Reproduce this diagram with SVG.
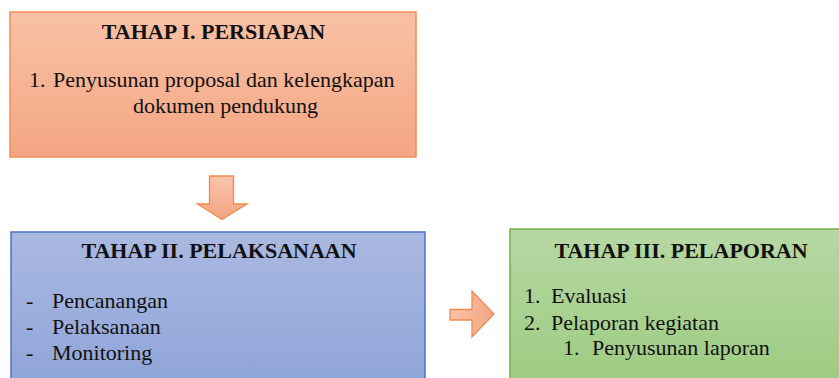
<svg xmlns="http://www.w3.org/2000/svg" width="839" height="378" viewBox="0 0 839 378">
<defs>
<linearGradient id="gO" x1="0" y1="0" x2="0" y2="1"><stop offset="0" stop-color="#f8c1a6"/><stop offset="1" stop-color="#f4a683"/></linearGradient>
<linearGradient id="gB" x1="0" y1="0" x2="0" y2="1"><stop offset="0" stop-color="#abb9e1"/><stop offset="1" stop-color="#8da3d8"/></linearGradient>
<linearGradient id="gG" x1="0" y1="0" x2="0" y2="1"><stop offset="0" stop-color="#b7d8a4"/><stop offset="1" stop-color="#9ccb80"/></linearGradient>
<linearGradient id="gA" x1="0" y1="0" x2="0" y2="1"><stop offset="0" stop-color="#f8c4aa"/><stop offset="1" stop-color="#f4a582"/></linearGradient>
<linearGradient id="gAh" x1="0" y1="0" x2="1" y2="0"><stop offset="0" stop-color="#f8c4aa"/><stop offset="1" stop-color="#f4a582"/></linearGradient>
</defs>
<style>
text{font-family:'Liberation Serif','Times New Roman','DejaVu Serif',serif;font-size:22px;fill:#111}
.t{font-weight:bold;text-anchor:middle}
.m{text-anchor:middle}
.arrow{stroke:#ef8a4f;stroke-width:1.3}
</style>
<g id="tahap1">
<rect x="10" y="12" width="406" height="145" fill="url(#gO)" stroke="#f08f58" stroke-width="1.5"/>
<text class="t" x="213.5" y="39">TAHAP I. PERSIAPAN</text>
<text x="29" y="87">1.</text>
<text x="53" y="87">Penyusunan proposal dan kelengkapan</text>
<text class="m" x="225.5" y="113">dokumen pendukung</text>
</g>
<g id="tahap2">
<rect x="11" y="232" width="414" height="160" fill="url(#gB)" stroke="#4a74c6" stroke-width="1.5"/>
<text class="t" x="219" y="258">TAHAP II. PELAKSANAAN</text>
<text x="26" y="308">-</text><text x="52" y="308">Pencanangan</text>
<text x="26" y="334">-</text><text x="52" y="334">Pelaksanaan</text>
<text x="26" y="360">-</text><text x="52" y="360">Monitoring</text>
</g>
<g id="tahap3">
<rect x="510" y="229" width="340" height="160" fill="url(#gG)" stroke="#74ad4c" stroke-width="1.5"/>
<text class="t" x="681" y="258">TAHAP III. PELAPORAN</text>
<text x="524" y="303">1.</text><text x="551" y="303">Evaluasi</text>
<text x="524" y="330">2.</text><text x="551" y="330">Pelaporan kegiatan</text>
<text x="563" y="355">1.</text><text x="592" y="355">Penyusunan laporan</text>
</g>
<g id="connectors">
<path class="arrow" fill="url(#gA)" d="M209.5 176 H233.5 V204 H247 L222 219.5 L197.5 204 H209.5 Z"/>
<path class="arrow" fill="url(#gAh)" d="M450 309.5 H472 V291 L494 314 L472 337 V320 H450 Z"/>
</g>
</svg>
